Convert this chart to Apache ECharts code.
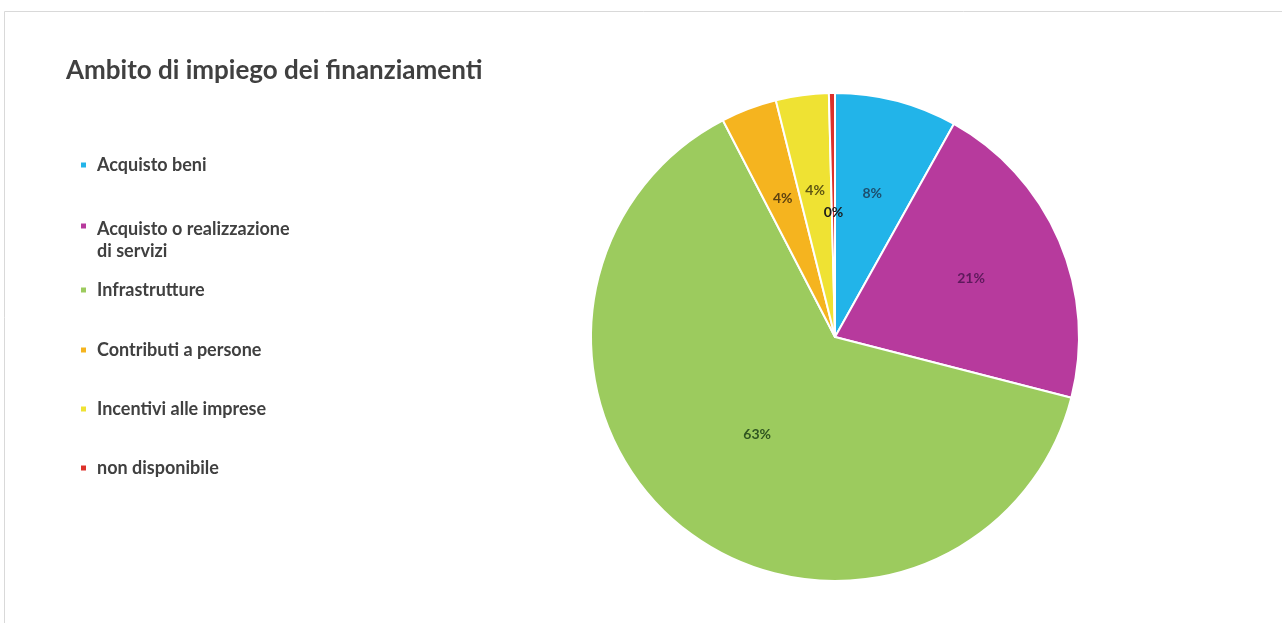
<!DOCTYPE html>
<html>
<head>
<meta charset="utf-8">
<script src="https://cdn.jsdelivr.net/npm/echarts@6/dist/echarts.min.js"></script>
<style>
  html, body { margin: 0; padding: 0; background: #ffffff; }
  #chart { width: 1282px; height: 623px; }
</style>
</head>
<body>
<div id="chart"></div>
<script>
// Funding usage areas (share of total, %)
const categories = [
  'Acquisto beni',
  'Acquisto o realizzazione\ndi servizi',
  'Infrastrutture',
  'Contributi a persone',
  'Incentivi alle imprese',
  'non disponibile'
];
const values = [8.1, 20.9, 63.4, 3.7, 3.5, 0.4];
const sliceColors = ['#22b4e9', '#b73a9d', '#9ccb5e', '#f5b41f', '#efe233', '#dc312a'];
const labelColors = ['#1d4f6e', '#5e1a5c', '#2f5520', '#5e4210', '#5e5612', '#1a1a1a'];
// legend rows: vertical centre of each marker
const legendRows = [165, 226, 290, 350, 409, 468];

const font = 'Lato, "Open Sans", sans-serif';
const center = [835, 337];
const R = 244;

// main pie: drawn slices; labels near the middle for the big and tiny slice
const mainData = categories.map((name, i) => ({
  name,
  value: values[i],
  itemStyle: { color: sliceColors[i] },
  label: { show: i === 2 || i === 5, color: labelColors[i] }
}));
// transparent ring carrying the labels of the other slices a bit farther out
const ringData = categories.map((name, i) => ({
  name,
  value: values[i],
  label: { show: !(i === 2 || i === 5), color: labelColors[i] }
}));

const lh = 22;
const spacer = 28; // blank first line so a wrapped name starts level with its marker
const legends = categories.map((name, i) => {
  const lines = name.split('\n');
  const twoLine = lines.length > 1;
  const boxH = twoLine ? spacer + lines.length * lh : lh;
  const base = { fontFamily: font, fontSize: 18, fontWeight: 'bold', color: '#404040', lineHeight: lh };
  return {
    orient: 'vertical',
    left: 79,
    top: legendRows[i] - boxH / 2,
    padding: 0,
    itemWidth: 7,
    itemHeight: 7,
    icon: 'rect',
    selectedMode: false,
    data: [name],
    formatter: twoLine
      ? () => '{p| }\n' + lines.map(l => '{a|' + l + '}').join('\n')
      : undefined,
    textStyle: Object.assign({}, base, {
      padding: [0, 0, 0, 5],
      rich: {
        p: { lineHeight: spacer, fontSize: 10 },
        a: Object.assign({}, base)
      }
    })
  };
});

const chart = echarts.init(document.getElementById('chart'), null, { renderer: 'canvas' });
chart.setOption({
  backgroundColor: '#ffffff',
  animation: false,
  title: {
    text: 'Ambito di impiego dei finanziamenti',
    left: 61,
    top: 53,
    textStyle: { fontFamily: font, fontSize: 26, fontWeight: 'bold', color: '#404040' }
  },
  legend: legends,
  graphic: [{
    type: 'rect',
    silent: true,
    shape: { x: 4.5, y: 11.5, width: 1400, height: 800 },
    style: { fill: 'none', stroke: '#d9d9d9', lineWidth: 1 }
  }],
  series: [
    {
      type: 'pie',
      name: 'main',
      center,
      radius: [0, R],
      startAngle: 90,
      clockwise: true,
      percentPrecision: 0,
      avoidLabelOverlap: false,
      itemStyle: { borderColor: '#ffffff', borderWidth: 2 },
      label: {
        position: 'inside',
        formatter: '{d}%',
        fontFamily: font,
        fontSize: 14,
        fontWeight: 'bold'
      },
      labelLine: { show: false },
      emphasis: { disabled: true },
      data: mainData
    },
    {
      type: 'pie',
      name: 'labels',
      center,
      radius: [98, 192],
      startAngle: 90,
      clockwise: true,
      percentPrecision: 0,
      silent: true,
      avoidLabelOverlap: false,
      itemStyle: { color: 'rgba(0,0,0,0)', borderWidth: 0 },
      label: {
        position: 'inside',
        formatter: '{d}%',
        fontFamily: font,
        fontSize: 14,
        fontWeight: 'bold'
      },
      labelLine: { show: false },
      emphasis: { disabled: true },
      data: ringData
    }
  ]
});
</script>
</body>
</html>
